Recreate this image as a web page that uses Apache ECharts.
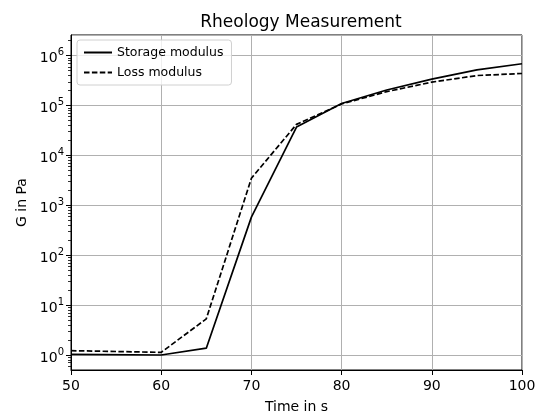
<!DOCTYPE html>
<html>
<head>
<meta charset="utf-8">
<script src="https://cdn.jsdelivr.net/npm/echarts@6/dist/echarts.min.js"></script>
<style>
  html, body { margin: 0; padding: 0; background: #fff; }
  #chart { width: 541px; height: 413px; }
</style>
</head>
<body>
<div id="chart"></div>
<script>
// Rheology sweep: storage (G') and loss (G'') modulus over time
const times = [50, 60, 65, 70, 75, 80, 85, 90, 95, 100];
const storageModulus = [1.03, 1.0, 1.37, 580, 37000, 110000, 205000, 340000, 520000, 690000];
const lossModulus = [1.22, 1.13, 5.3, 3500, 42000, 108000, 190000, 295000, 400000, 440000];

const FONT = 'DejaVu Sans';
const Y_MIN = 0.5, Y_MAX = 2.6e6;

// log-axis minor tick positions: 2..9 x 10^k inside the visible range
const minorTickValues = [];
for (let k = -1; k <= 6; k++) {
  for (let m = 2; m <= 9; m++) {
    const v = m * Math.pow(10, k);
    if (v > Y_MIN && v < Y_MAX) minorTickValues.push(v);
  }
}

const chart = echarts.init(document.getElementById('chart'));
const pairs = (ys) => times.map((t, i) => [t, ys[i]]);

chart.setOption({
  animation: false,
  backgroundColor: '#ffffff',
  textStyle: { fontFamily: FONT },
  title: {
    text: 'Rheology Measurement',
    left: 296, top: 9,
    textAlign: 'center',
    textStyle: { fontFamily: FONT, fontSize: 17, fontWeight: 'normal', color: '#000' }
  },
  legend: {
    left: 77, top: 40,
    orient: 'vertical',
    itemWidth: 28, itemHeight: 10, itemGap: 7,
    padding: [6, 8, 6, 6],
    backgroundColor: 'rgba(255,255,255,0.8)',
    borderColor: '#d0d0d0', borderWidth: 1, borderRadius: 3,
    itemStyle: { opacity: 0 },
    textStyle: { fontFamily: FONT, fontSize: 12.5, color: '#000' },
    data: ['Storage modulus', 'Loss modulus']
  },
  grid: {
    left: 71, right: 19, top: 35, bottom: 43,
    outerBoundsMode: 'none',
    show: true, borderColor: '#000', borderWidth: 1
  },
  xAxis: {
    type: 'value', min: 50, max: 100, interval: 10,
    name: 'Time in s', nameLocation: 'middle', nameGap: 30,
    nameTextStyle: { fontFamily: FONT, fontSize: 14, color: '#000' },
    axisLine: { show: true, lineStyle: { color: '#000', width: 1 } },
    axisTick: { show: true, inside: false, length: 5, lineStyle: { color: '#000' } },
    axisLabel: { fontFamily: FONT, fontSize: 14, color: '#000', margin: 9 },
    splitLine: { show: true, lineStyle: { color: '#b0b0b0', width: 1 } }
  },
  yAxis: [
    {
      type: 'log', logBase: 10, min: Y_MIN, max: Y_MAX, splitNumber: 7,
      name: 'G in Pa', nameLocation: 'middle', nameGap: 42,
      nameTextStyle: { fontFamily: FONT, fontSize: 14, color: '#000' },
      axisLine: { show: true, lineStyle: { color: '#000', width: 1 } },
      axisTick: { show: true, inside: false, length: 5, lineStyle: { color: '#000' } },
      axisLabel: {
        color: '#000', margin: 7, showMaxLabel: false,
        formatter: (v) => {
          const e = Math.round(Math.log10(v));
          return '{b|10}{s|' + e + '}';
        },
        rich: {
          b: { fontFamily: FONT, fontSize: 14, color: '#000', padding: [6, 0, 0, 0] },
          s: { fontFamily: FONT, fontSize: 10, color: '#000', padding: [0, 0, 6, 0] }
        }
      },
      splitLine: { show: true, lineStyle: { color: '#b0b0b0', width: 1 } }
    },
    {
      // overlay axis carrying only the minor tick marks
      type: 'log', logBase: 10, min: Y_MIN, max: Y_MAX, position: 'left',
      axisLine: { show: false },
      axisTick: { show: true, inside: false, length: 3, customValues: minorTickValues,
                  lineStyle: { color: '#000', width: 0.8 } },
      axisLabel: { show: false },
      splitLine: { show: false }
    }
  ],
  series: [
    {
      name: 'Storage modulus', type: 'line', symbol: 'none',
      data: pairs(storageModulus),
      lineStyle: { color: '#000', width: 1.7, type: 'solid' },
      itemStyle: { color: '#000' }
    },
    {
      name: 'Loss modulus', type: 'line', symbol: 'none',
      data: pairs(lossModulus),
      lineStyle: { color: '#000', width: 1.7, type: [5.5, 2.4] },
      itemStyle: { color: '#000' }
    }
  ]
});
</script>
</body>
</html>
